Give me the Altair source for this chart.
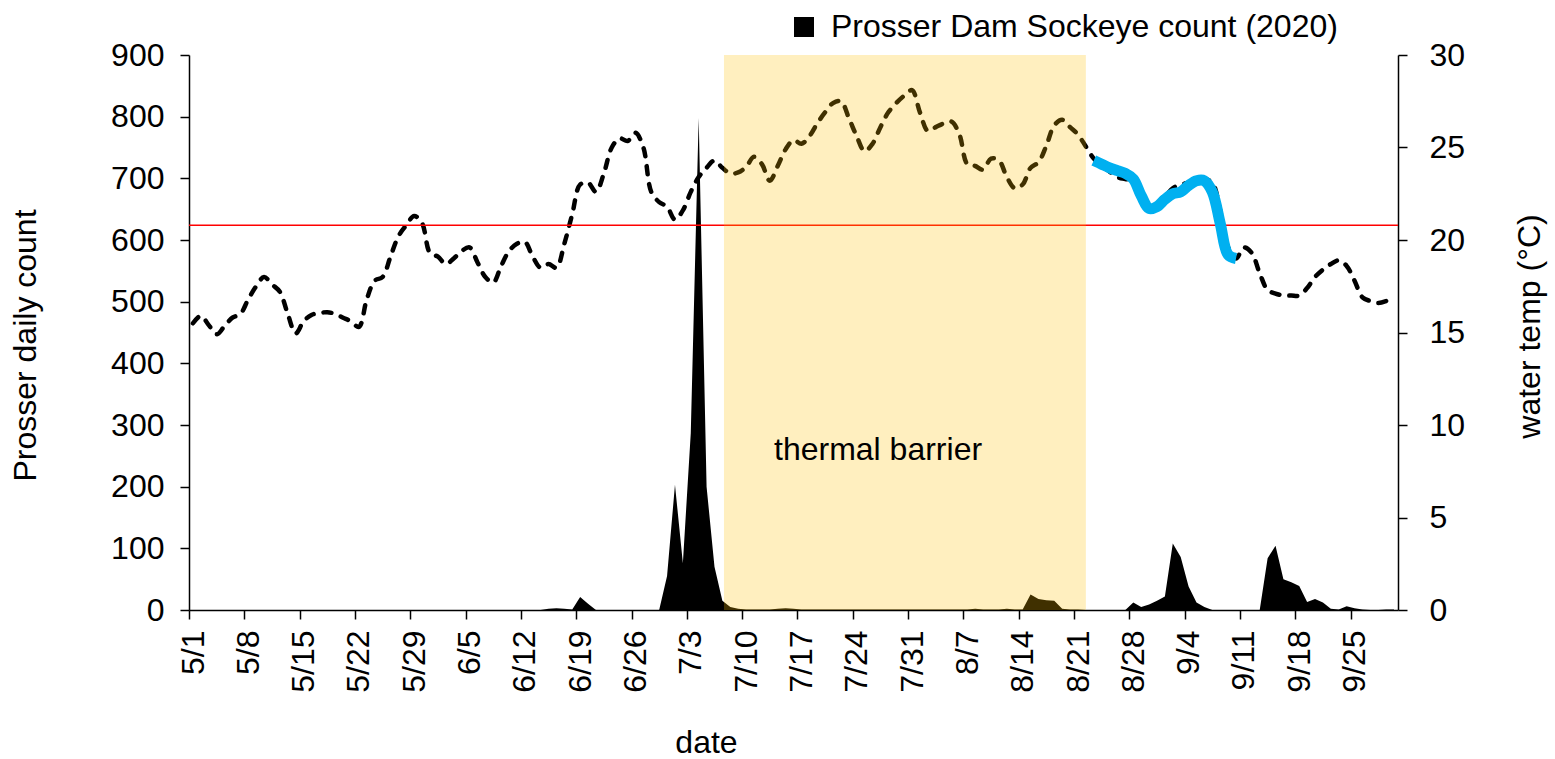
import altair as alt
import pandas as pd

FONT = "Liberation Sans"
FS = 32

tick_labels = ['5/1', '5/8', '5/15', '5/22', '5/29', '6/5', '6/12', '6/19', '6/26',
               '7/3', '7/10', '7/17', '7/24', '7/31', '8/7', '8/14', '8/21', '8/28',
               '9/4', '9/11', '9/18', '9/25']
tick_days = [0, 7, 14, 21, 28, 35, 42, 49, 56, 63, 70, 77, 84, 91, 98, 105, 112,
             119, 126, 133, 140, 147]

# daily Prosser Dam sockeye counts, 5/1 .. 9/30
count = [
    0, 0, 0, 0, 0, 0, 0, 0, 0, 0,          # 0-9
    0, 0, 0, 0, 0, 0, 0, 0, 0, 0,          # 10-19
    0, 0, 0, 0, 0, 0, 0, 0, 0, 0,          # 20-29
    0, 0, 0, 0, 0, 0, 0, 0, 0, 0,          # 30-39
    0, 0, 0, 0, 0, 2, 3, 2, 1, 21,         # 40-49
    10, 0, 0, 0, 0, 0, 0, 0, 0, 0,         # 50-59
    55, 203, 76, 287, 798, 200, 70, 15, 5, 2,   # 60-69
    1, 1, 1, 1, 2, 3, 2, 1, 1, 1,          # 70-79
    1, 1, 1, 1, 1, 1, 1, 1, 1, 1,          # 80-89
    1, 1, 1, 1, 1, 1, 1, 1, 1, 2,          # 90-99
    1, 1, 1, 2, 1, 1, 25, 18, 16, 15,      # 100-109
    2, 1, 1, 0, 0, 0, 0, 0, 0, 12,         # 110-119
    5, 9, 15, 22, 108, 86, 38, 12, 5, 0,   # 120-129
    0, 0, 0, 0, 0, 0, 84, 104, 50, 45,     # 130-139
    39, 13, 18, 12, 2, 1, 6, 3, 1, 0,      # 140-149
    0, 1, 1,                               # 150-152
]

# daily water temperature (deg C), 5/1 .. 9/30
temp = [
    15.5, 15.9, 15.4, 14.9, 15.35, 15.8, 16.0, 16.8, 17.5, 18.0,
    17.6, 17.2, 16.0, 14.95, 15.6, 15.95, 16.05, 16.1, 16.0, 15.8,
    15.6, 15.3, 16.8, 17.8, 18.0, 19.1, 20.2, 20.8, 21.3, 20.9,
    19.3, 19.1, 18.7, 19.0, 19.4, 19.6, 18.8, 18.0, 17.7, 18.6,
    19.4, 19.8, 19.9, 19.1, 18.5, 18.7, 18.5, 19.8, 21.4, 23.0,
    23.1, 22.6, 23.6, 25.0, 25.5, 25.35, 25.8, 25.0, 22.6, 22.05,
    21.8, 21.1, 21.6, 22.6, 23.4, 23.9, 24.3, 23.9, 23.6, 23.65,
    23.95, 24.5, 24.1, 23.2, 24.0, 24.9, 25.4, 25.2, 25.6, 26.3,
    26.9, 27.4, 27.5, 26.6, 25.6, 24.8, 25.2, 26.1, 26.9, 27.4,
    27.8, 28.1, 26.9, 25.9, 26.1, 26.3, 26.4, 25.7, 24.1, 24.0,
    23.8, 24.4, 24.3, 23.4, 22.8, 23.0, 23.9, 24.2, 25.1, 26.2,
    26.5, 26.1, 25.7, 25.05, 24.4, 24.0, 23.7, 23.4, 23.3, 23.2,
    22.6, 21.8, 21.8, 22.3, 22.8, 23.0, 23.1, 23.3, 23.3, 23.1,
    21.6, 19.6, 19.0, 19.6, 19.3, 18.2, 17.3, 17.1, 17.0, 17.0,
    17.0, 17.4, 18.0, 18.4, 18.7, 18.9, 18.6, 17.8, 16.9, 16.7,
    16.6, 16.7, 16.9,
]

# highlighted (blue) segment, starting at day index 114 (8/23)
blue_start = 114
blue_temp = [24.3, 24.1, 23.9, 23.75, 23.6, 23.3, 22.4, 21.7, 21.8, 22.2,
             22.5, 22.6, 22.95, 23.2, 23.2, 22.6, 20.9, 19.2, 19.0]

threshold_temp = [20.8]

band_start = [67.7]
band_end = [113.5]
band_label = ['thermal barrier']
band_label_day = [87.2]
band_label_count = [259]

legend_label = 'Prosser Dam Sockeye count (2020)'

n = len(count)
df_count = pd.DataFrame({'d': [i + 0.5 for i in range(n)], 'c': count,
                         'series': [legend_label] * n})
df_temp = pd.DataFrame({'d': [i + 0.5 for i in range(len(temp))], 't': temp})
df_blue = pd.DataFrame({'d': [blue_start + i + 0.5 for i in range(len(blue_temp))],
                        't': blue_temp})
df_thr = pd.DataFrame({'t': threshold_temp})
df_band = pd.DataFrame({'d': band_start, 'd2': band_end, 'c': [0], 'c2': [900]})
df_text = pd.DataFrame({'d': band_label_day, 'c': band_label_count, 'label': band_label})

label_expr = "[" + ",".join("'%s'" % s for s in tick_labels) + "][round(datum.value/7)]"

x_axis = alt.Axis(values=tick_days, labelExpr=label_expr, labelAngle=270,
                  labelAlign='right', labelBaseline='middle', labelOffset=4,
                  labelPadding=11, labelFlush=False, labelOverlap=False,
                  tickSize=9, title='date', titleX=517, titleY=132,
                  titleBaseline='middle', titleFontSize=FS, titleFontWeight='normal',
                  labelFontSize=FS)
x_scale = alt.Scale(domain=[0, 153], nice=False, zero=False)


def X(field='d'):
    return alt.X(field + ':Q', scale=x_scale, axis=x_axis)


count_scale = alt.Scale(domain=[0, 900], nice=False)
temp_scale = alt.Scale(domain=[0, 30], nice=False)

y_count = alt.Y('c:Q', scale=count_scale,
                axis=alt.Axis(orient='left', values=list(range(0, 901, 100)),
                              tickSize=9, labelPadding=16, labelFontSize=FS,
                              title='Prosser daily count', titleAngle=270,
                              titleX=-164, titleY=290, titleBaseline='middle',
                              titleFontSize=FS, titleFontWeight='normal'))
y_temp = alt.Y('t:Q', scale=temp_scale,
               axis=alt.Axis(orient='right', values=list(range(0, 31, 5)),
                             tickSize=9, labelPadding=22, labelFontSize=FS,
                             title='water temp (°C)', titleAngle=270,
                             titleX=131, titleY=271, titleBaseline='middle',
                             titleFontSize=FS, titleFontWeight='normal'))

area = alt.Chart(df_count).mark_area(interpolate='linear', opacity=1).encode(
    x=X(),
    y=y_count,
    color=alt.Color('series:N',
                    scale=alt.Scale(domain=[legend_label], range=['black']),
                    legend=alt.Legend(title=None, orient='none', legendX=599,
                                      legendY=-44, symbolType='square',
                                      symbolSize=400, symbolStrokeWidth=0,
                                      labelFontSize=FS, labelFont=FONT,
                                      labelOffset=11, labelLimit=900, padding=0,
                                      labelColor='black')),
)

dashed = alt.Chart(df_temp).mark_line(color='black', strokeWidth=4.5,
                                      strokeDash=[8, 10], strokeCap='round',
                                      interpolate='catmull-rom').encode(x=X(), y=y_temp)
blue = alt.Chart(df_blue).mark_line(color='#00B0F0', strokeWidth=11,
                                    strokeJoin='round',
                                    interpolate='catmull-rom').encode(x=X(), y=y_temp)
thr = alt.Chart(df_thr).mark_rule(color='#FF0000', strokeWidth=1.5).encode(y=y_temp)

temps = alt.layer(dashed, thr, blue)

band = alt.Chart(df_band).mark_rect(color='#FFC000', opacity=0.25).encode(
    x=X(), x2='d2:Q',
    y=alt.Y('c:Q', scale=count_scale, axis=None), y2='c2:Q')

text = alt.Chart(df_text).mark_text(font=FONT, fontSize=FS, color='black',
                                    baseline='middle', align='center').encode(
    x=X(), y=alt.Y('c:Q', scale=count_scale, axis=None), text='label:N')

chart = alt.layer(area, temps, band, text).resolve_scale(y='independent').properties(
    width=1209, height=555,
    autosize=alt.AutoSizeParams(type='none'),
    padding={'left': 189, 'top': 55, 'right': 157, 'bottom': 149},
    background='white',
).configure_view(stroke=None).configure_axis(
    grid=False, domainColor='black', tickColor='black', labelColor='black',
    titleColor='black', labelFont=FONT, titleFont=FONT, domainWidth=1.5,
    tickWidth=1.5,
)

chart.save("out.html", embed_options={"renderer": "svg", "actions": False})
